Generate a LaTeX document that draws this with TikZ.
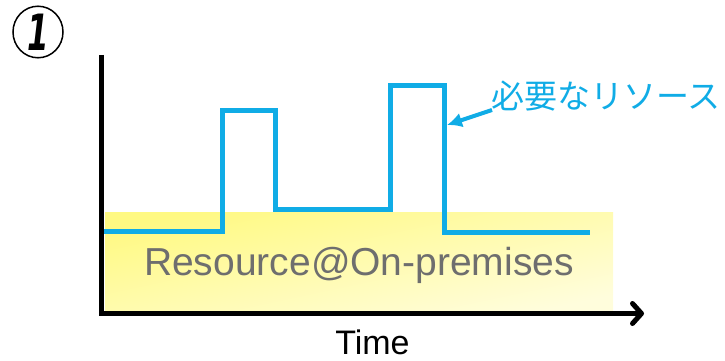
\documentclass[tikz,border=0pt]{standalone}
\usepackage{fontspec}
\setmainfont{Liberation Sans}
\newfontfamily\cjk{Noto Sans CJK JP}
\newfontfamily\numfont{DejaVu Sans}
\usetikzlibrary{arrows.meta,shapes.geometric}
\definecolor{needblue}{HTML}{10ACE6}
\definecolor{labelgray}{HTML}{6E6E6E}
\definecolor{onpremyellow}{HTML}{FFF982}
\definecolor{onpremlight}{HTML}{FFFDDC}

\begin{document}
\begin{tikzpicture}[x=1pt,y=-1pt]
\tikzstyle{axis} = [line width=5pt, line join=miter]
\tikzstyle{need} = [needblue, line width=5pt, line join=miter]
\tikzstyle{onprem} = [top color=onpremyellow, bottom color=onpremlight, shading angle=12]

\useasboundingbox (0,0) rectangle (725,361);

\shade[onprem] (105,212) rectangle (613,312);
\node (onprem) at (359,265) {\fontsize{39}{39}\selectfont\color{labelgray}Resource@On-premises};

\draw[need] (104,231) -- (222.5,231) -- (222.5,110.5) -- (275,110.5) -- (275,209) -- (390,209)
  -- (390,85.5) -- (444.5,85.5) -- (444.5,232) -- (590,232);

\draw[axis, -{Straight Barb[length=9pt,width=20pt,round]}] (101,55) -- (101,313.5) -- (644,313.5);

\node[anchor=base, inner sep=0pt] (time) at (372.5,354) {\fontsize{34}{34}\selectfont Time};

\node[anchor=west, inner sep=0pt, text=needblue] (need) at (491,96) {\fontsize{33}{33}\selectfont\cjk 必要なリソース};
\coordinate (peak) at (447,125);
\draw[needblue, line width=4pt, -{Latex[length=15pt,width=15pt]}] ([xshift=1pt,yshift=-14pt]need.west) -- (peak);

\node[ellipse, draw, line width=1.5pt, minimum width=50pt, minimum height=40pt, inner sep=0pt] (num) at (38,32)
  {\scalebox{0.62}[1]{\fontsize{50}{50}\selectfont\numfont\bfseries\itshape 1}};
\end{tikzpicture}
\end{document}
